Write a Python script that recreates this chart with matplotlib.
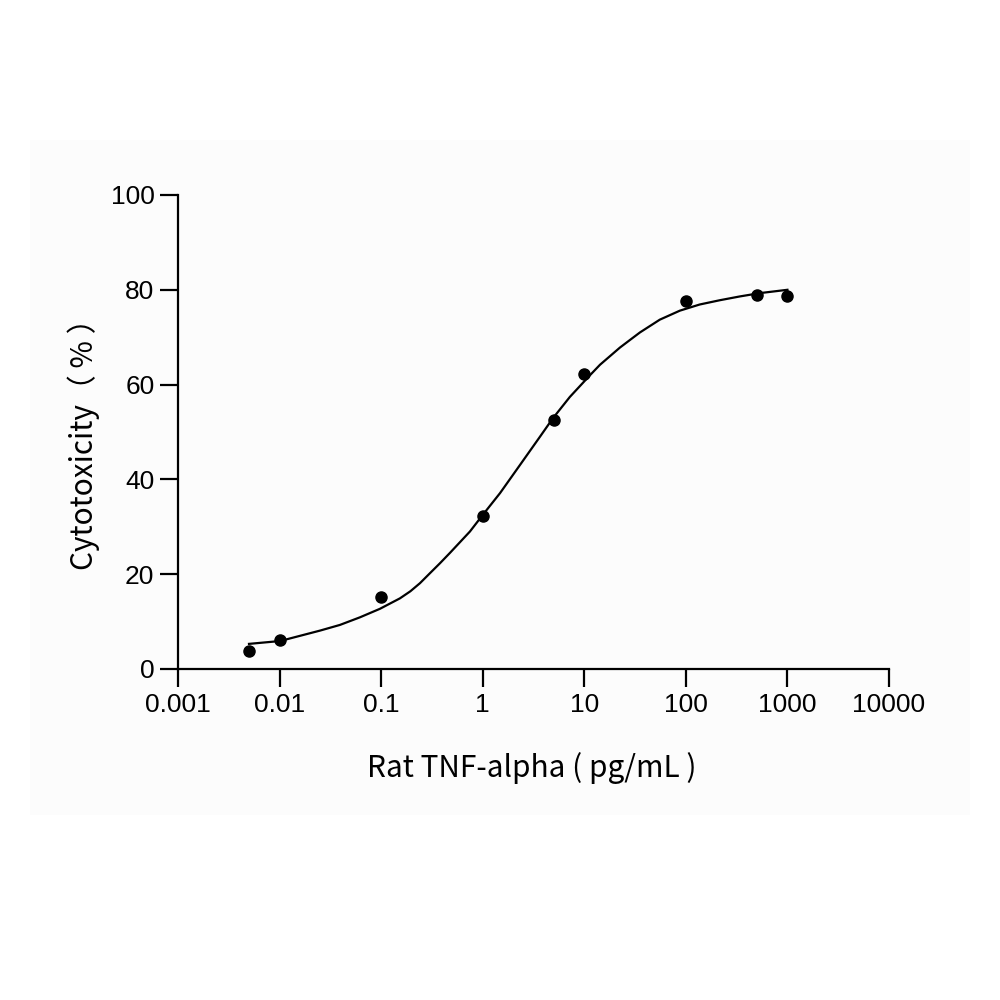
import matplotlib
matplotlib.use('Agg')
import matplotlib.pyplot as plt
from matplotlib.patches import Rectangle
from matplotlib.ticker import FixedLocator, NullLocator

# measured points
conc = [0.005, 0.01, 0.1, 1, 5, 10, 100, 500, 1000]
cytotox = [3.8, 6.1, 15.2, 32.3, 52.5, 62.2, 77.6, 78.9, 78.7]

# fitted curve
curve_x = [0.005, 0.0101, 0.0159, 0.025, 0.0393, 0.0618, 0.0973, 0.153, 0.194, 0.241,
           0.302, 0.379, 0.476, 0.748, 1.0, 1.48, 2.32, 3.66, 4.91, 7.21, 11.4,
           14.3, 17.9, 22.4, 28.1, 35.3, 55.4, 87.3, 137, 216, 340, 535, 1000]
curve_y = [5.3, 5.9, 7.0, 8.1, 9.3, 10.9, 12.7, 14.9, 16.4, 18.1,
           20.2, 22.3, 24.5, 29.0, 32.5, 37.1, 43.0, 49.0, 52.9, 57.4, 62.0,
           64.2, 66.0, 67.8, 69.4, 71.0, 73.7, 75.6, 76.9, 77.8, 78.6, 79.3, 80.0]

x_ticks = [0.001, 0.01, 0.1, 1, 10, 100, 1000, 10000]
x_labels = ['0.001', '0.01', '0.1', '1', '10', '100', '1000', '10000']
y_ticks = [0, 20, 40, 60, 80, 100]

fig = plt.figure(figsize=(10, 10), dpi=100)
fig.patch.set_facecolor('white')
# faint grey panel behind the chart
fig.patches.append(Rectangle((0.03, 0.185), 0.94, 0.675, transform=fig.transFigure,
                             facecolor='#fcfcfc', edgecolor='none', zorder=-10))

ax = fig.add_axes([0.178, 0.331, 0.711, 0.474], zorder=5)
ax.set_facecolor('none')

ax.plot(curve_x, curve_y, color='black', linewidth=1.6, solid_joinstyle='round')
ax.plot(conc, cytotox, 'o', color='black', markersize=8)

ax.set_xscale('log')
ax.set_xlim(0.001, 10000)
ax.set_ylim(0, 100)
ax.xaxis.set_major_locator(FixedLocator(x_ticks))
ax.xaxis.set_minor_locator(NullLocator())
ax.set_xticklabels(x_labels)
ax.set_yticks(y_ticks)

for side in ['top', 'right']:
    ax.spines[side].set_visible(False)
for side in ['left', 'bottom']:
    ax.spines[side].set_linewidth(1.6)

ax.tick_params(axis='both', direction='out', length=13, width=1.6, color='black',
               labelsize=19, pad=4)
for lbl in ax.get_xticklabels() + ax.get_yticklabels():
    lbl.set_fontfamily('Liberation Sans')

ax.set_xlabel('Rat TNF-alpha ( pg/mL )', fontsize=21.5, family=['Noto Sans CJK SC', 'DejaVu Sans'])
ax.set_ylabel('Cytotoxicity（ % ）', fontsize=21.5, family=['Noto Sans CJK SC', 'DejaVu Sans'])
ax.xaxis.set_label_coords(0.497, -0.175)
ax.yaxis.set_label_coords(-0.11, 0.49)

fig.savefig('out.png', dpi=100)
